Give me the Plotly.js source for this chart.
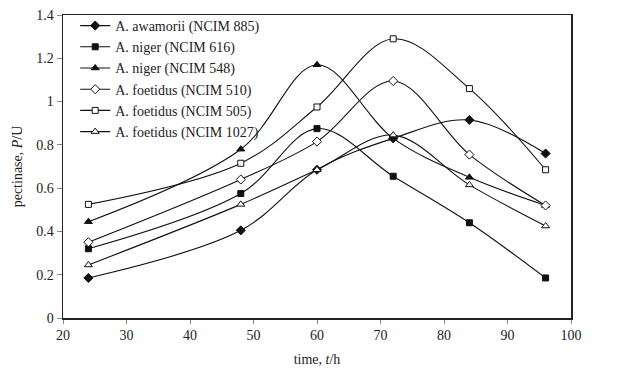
<!DOCTYPE html>
<html><head><meta charset="utf-8">
<script src="https://cdn.plot.ly/plotly-3.0.1.min.js"></script>
<style>body{margin:0;background:#fff}#c{width:629px;height:377px}</style>
</head><body><div id="c"></div>
<script>
const time = [24, 48, 60, 72, 84, 96];
const seriesNames = ["A. awamorii (NCIM 885)", "A. niger (NCIM 616)", "A. niger (NCIM 548)", "A. foetidus (NCIM 510)", "A. foetidus (NCIM 505)", "A. foetidus (NCIM 1027)"];
const awamorii885 = [0.185, 0.405, 0.685, 0.83, 0.915, 0.76];
const niger616 = [0.32, 0.575, 0.875, 0.655, 0.44, 0.185];
const niger548 = [0.445, 0.78, 1.17, 0.83, 0.65, 0.52];
const foetidus510 = [0.35, 0.64, 0.815, 1.095, 0.755, 0.52];
const foetidus505 = [0.525, 0.715, 0.975, 1.29, 1.06, 0.685];
const foetidus1027 = [0.245, 0.525, 0.685, 0.845, 0.615, 0.425];
const values = [awamorii885, niger616, niger548, foetidus510, foetidus505, foetidus1027];
const symbols = ["diamond", "square", "triangle-up", "diamond", "square", "triangle-up"];
const filled = [true, true, true, false, false, false];
const sizes = [7, 6, 7, 7, 6, 7];

const traces = values.map((v, i) => ({
  x: time, y: v, name: seriesNames[i], type: "scatter", mode: "lines+markers",
  line: {color: "#111", width: 1.1, shape: "spline", smoothing: 1},
  marker: {symbol: symbols[i], size: sizes[i], color: filled[i] ? "#111" : "#fff",
           line: {color: "#111", width: 1}},
  cliponaxis: false
}));

const fam = "'Liberation Serif'";
const layout = {
  width: 629, height: 377,
  margin: {l: 63, r: 58, t: 15, b: 59, autoexpand: false},
  paper_bgcolor: "#fff", plot_bgcolor: "#fff",
  font: {family: fam, size: 14, color: "#222"},
  showlegend: true,
  legend: {x: 0.024, y: 1.0165, xanchor: "left", yanchor: "top", bgcolor: "rgba(0,0,0,0)",
           font: {family: fam, size: 14, color: "#222"}, tracegroupgap: 0},
  xaxis: {range: [20, 100], dtick: 10, tick0: 20, showgrid: false, zeroline: false,
          showline: true, mirror: true, linecolor: "#222", linewidth: 1.5,
          ticks: "outside", ticklen: 4, tickcolor: "#888",
          tickfont: {family: fam, size: 14, color: "#222"},
          title: {text: "time, <i>t</i>/h", font: {family: fam, size: 14}, standoff: 12}},
  yaxis: {range: [0, 1.4], dtick: 0.2, tick0: 0, showgrid: false, zeroline: false,
          showline: true, mirror: true, linecolor: "#222", linewidth: 1.5,
          ticks: "outside", ticklen: 5, tickcolor: "#888",
          tickfont: {family: fam, size: 14, color: "#222"},
          title: {text: "pectinase, <i>P</i>/U", font: {family: fam, size: 14}, standoff: 10}}
};
Plotly.newPlot("c", traces, layout, {displayModeBar: false, staticPlot: true});
</script></body></html>
